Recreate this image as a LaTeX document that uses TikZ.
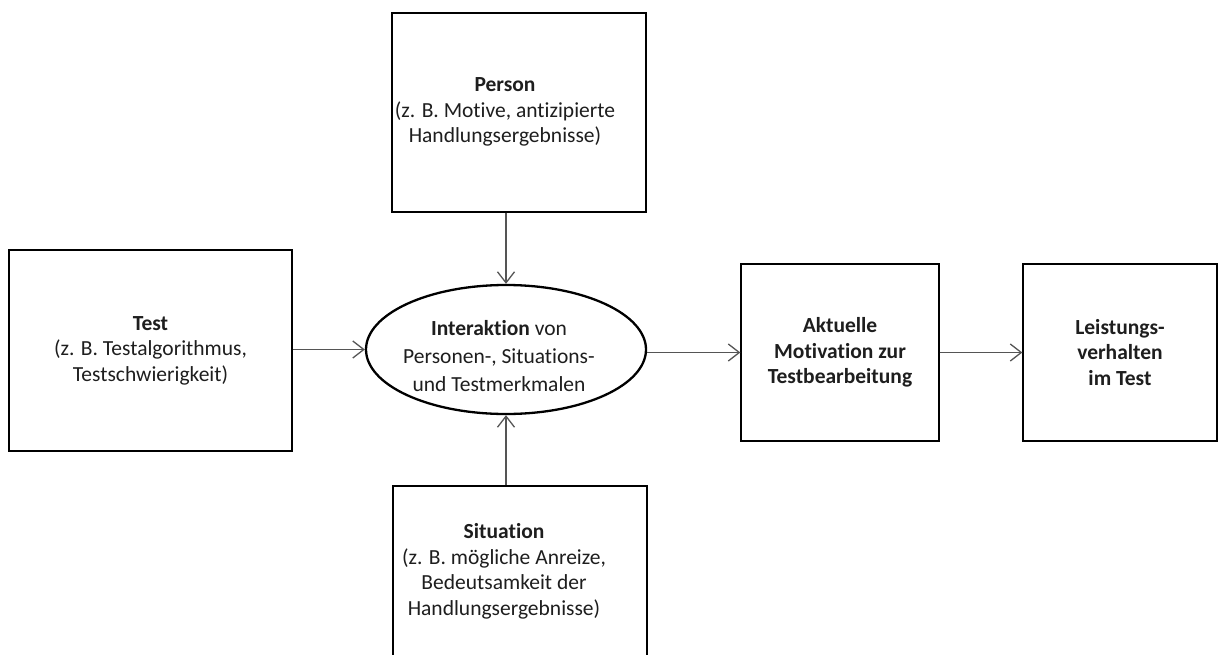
\documentclass[tikz,border=0pt]{standalone}
\usepackage{fontspec}
\setmainfont{Carlito}[Ligatures=NoCommon]
\usetikzlibrary{arrows.meta,shapes.geometric}
\definecolor{txtcol}{RGB}{30,30,30}
\definecolor{arrcol}{RGB}{85,85,85}
\begin{document}
\begin{tikzpicture}[x=1pt,y=-1pt,
  box/.style={draw=black,line width=1.3pt,inner sep=0pt,align=center,
    font=\fontsize{21.5}{25.5}\selectfont,text=txtcol},
  txt/.style={align=center,inner sep=0pt,font=\fontsize{21.5}{25.5}\selectfont,text=txtcol},
  conn/.style={draw=arrcol,line width=1.3pt,
    -{Straight Barb[length=11pt,width=17pt,line width=1.3pt]}}]
\useasboundingbox (0,0) rectangle (1219,654);
\fill[white] (0,0) rectangle (1219,654);

\node[box,minimum width=254pt,minimum height=199pt] (person) at (519,112.5) {};
\node[txt] (persontxt) at (505,112) {\textbf{Person}\\(z. B. Motive, antizipierte\\Handlungsergebnisse)};

\node[box,minimum width=283pt,minimum height=201pt] (test) at (150.5,350.5)
  {\textbf{Test}\\(z. B. Testalgorithmus,\\Testschwierigkeit)};

\node[draw=black,line width=2.3pt,ellipse,minimum width=280pt,minimum height=129pt,inner sep=0pt] (ell) at (506,349.5) {};
\node[txt,font=\fontsize{21.5}{28}\selectfont] (elltxt) at (499,356)
  {\textbf{Interaktion} von\\Personen-, Situations-\\und Testmerkmalen};

\node[box,minimum width=254pt,minimum height=171pt] (situation) at (520,571.5) {};
\node[txt] (sittxt) at (504,571.5) {\textbf{Situation}\\(z. B. mögliche Anreize,\\Bedeutsamkeit der\\Handlungsergebnisse)};

\node[box,minimum width=198pt,minimum height=177pt] (akt) at (840,352.5)
  {\textbf{Aktuelle}\\\textbf{Motivation zur}\\\textbf{Testbearbeitung}};

\node[box,minimum width=194pt,minimum height=177pt] (leist) at (1120,352.5)
  {\textbf{Leistungs-}\\\textbf{verhalten}\\\textbf{im Test}};

\draw[conn] (test.east |- ell.west) -- (ell.west);
\draw[conn] (ell.north |- person.south) -- (ell.north);
\draw[conn] (ell.south |- situation.north) -- (ell.south);
\draw[conn] (akt.west -| ell.east) -- (akt.west);
\draw[conn] (akt.east) -- (leist.west);
\end{tikzpicture}
\end{document}
